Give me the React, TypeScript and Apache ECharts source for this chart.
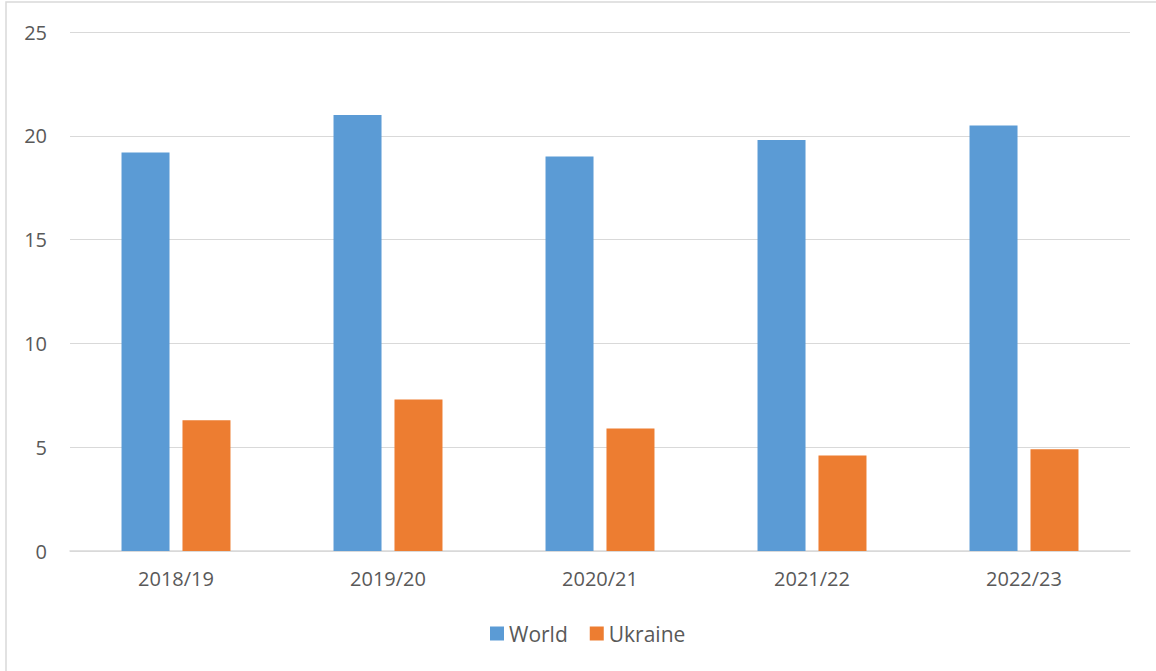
import React, { useEffect, useRef } from "react";
import * as echarts from "echarts";

const categories = ["2018/19", "2019/20", "2020/21", "2021/22", "2022/23"];
const worldValues = [19.2, 21.0, 19.0, 19.8, 20.5];
const ukraineValues = [6.3, 7.3, 5.9, 4.6, 4.9];

export default function App() {
  const ref = useRef<HTMLDivElement>(null);
  useEffect(() => {
    if (!ref.current) return;
    const chart = echarts.init(ref.current, null, { renderer: "svg" });
    const font = "'Open Sans', 'Noto Sans', sans-serif";
    chart.setOption({
      animation: false,
      backgroundColor: "#ffffff",
      textStyle: { fontFamily: font },
      graphic: [
        {
          type: "rect",
          shape: { x: 6, y: 2, width: 1170, height: 690 },
          style: { fill: "none", stroke: "#d9d9d9", lineWidth: 1.5 },
          silent: true,
        },
      ],
      grid: { left: 70, right: 26, top: 32, bottom: 120, containLabel: false },
      legend: {
        bottom: 27,
        left: 490,
        padding: 0,
        itemWidth: 14,
        itemHeight: 14,
        itemGap: 22,
        icon: "rect",
        textStyle: { fontFamily: font, fontSize: 21, color: "#595959" },
        data: ["World", "Ukraine"],
      },
      xAxis: {
        type: "category",
        data: categories,
        axisLine: { lineStyle: { color: "#d9d9d9", width: 1.5 } },
        axisTick: { show: false },
        axisLabel: { fontFamily: font, fontSize: 20, color: "#595959", margin: 17 },
      },
      yAxis: {
        type: "value",
        min: 0,
        max: 25,
        interval: 5,
        axisLine: { show: false },
        axisTick: { show: false },
        splitLine: { lineStyle: { color: "#d9d9d9", width: 1.2 } },
        axisLabel: { fontFamily: font, fontSize: 20, color: "#595959", margin: 23 },
      },
      series: [
        {
          name: "World",
          type: "bar",
          data: worldValues,
          itemStyle: { color: "#5b9bd5" },
          barGap: "27%",
          barCategoryGap: "48.6%",
        },
        {
          name: "Ukraine",
          type: "bar",
          data: ukraineValues,
          itemStyle: { color: "#ed7d31" },
        },
      ],
    });
    return () => chart.dispose();
  }, []);
  return (
    <div
      ref={ref}
      style={{ position: "absolute", left: 0, top: 0, width: 1156, height: 671 }}
    />
  );
}
